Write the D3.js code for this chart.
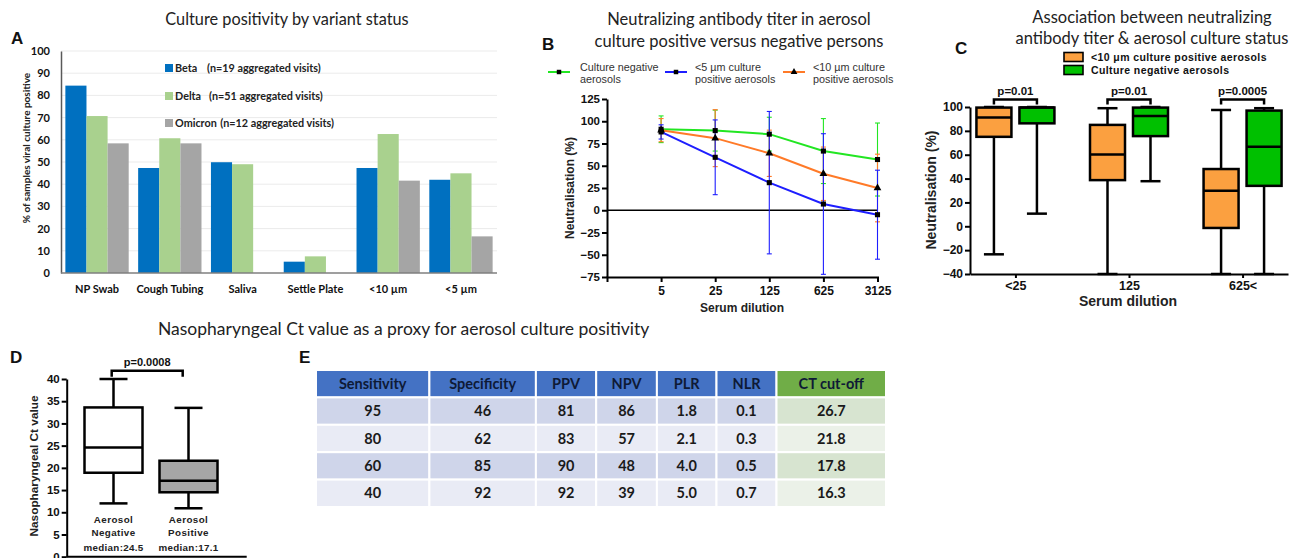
<!DOCTYPE html>
<html><head><meta charset="utf-8">
<script src="https://cdn.jsdelivr.net/npm/d3@7"></script>
<style>
body{margin:0;background:#fff}
svg{display:block}
</style></head><body>
<svg id="chart" width="1300" height="558"></svg>
<script>
// ---------------- DATA ----------------
// Panel A
const aCategories = ["NP Swab","Cough Tubing","Saliva","Settle Plate","<10 µm","<5 µm"];
const aSeries = ["Beta","Delta","Omicron"];
const aLegendNotes = ["(n=19 aggregated visits)","(n=51 aggregated visits)","(n=12 aggregated visits)"];
const betaValues    = [84.4, 47.3, 49.9, 5.1, 47.3, 42.0];
const deltaValues   = [70.7, 60.7, 49.0, 7.5, 62.6, 44.9];
const omicronValues = [58.4, 58.4, 0, 0, 41.6, 16.5];
const aYTicks = [0,10,20,30,40,50,60,70,80,90,100];

// Panel B
const bDilutions = [5,25,125,625,3125];
const bTickLabels = ["5","25","125","625","3125"];
const bSeriesNames = [["Culture negative","aerosols"],["<5 µm culture","positive aerosols"],["<10 µm culture","positive aerosols"]];
const negMean  = [91, 89.5, 85.5, 66.5, 57];
const negSD    = [15, 23, 19, 36.5, 41];
const lt5Mean  = [88, 59.5, 31, 7, -5];
const lt5SD    = [8, 42, 80, 79, 50];
const lt10Mean = [90, 81, 64, 41, 25];
const lt10SD   = [13, 32, 26, 30, 38];
const bYTicks = [-75,-50,-25,0,25,50,75,100,125];

// Panel C  [min, q1, median, q3, max]
const cCategories = ["<25","125","625<"];
const cGroups = ["<10 µm culture positive aerosols","Culture negative aerosols"];
const cPositiveBoxes = [[-23.5,75,91.3,99.5,100],[-40,38.7,60.2,85,99],[-40,-1.4,29.7,48,97.5]];
const cNegativeBoxes = [[10.6,86.3,99.6,99.6,100],[37.8,75.6,92.4,99.5,100],[-40,33.9,66.6,97,99]];
const cPValues = ["p=0.01","p=0.01","p=0.0005"];
const cYTicks = [-40,-20,0,20,40,60,80,100];

// Panel D
const dGroups = [["Aerosol","Negative"],["Aerosol","Positive"]];
const dBoxes = [[12.0,18.9,24.6,33.6,40],[10.9,14.5,17.1,21.6,33.5]];
const dMedians = ["median:24.5","median:17.1"];
const dPValue = "p=0.0008";
const dYTicks = [0,5,10,15,20,25,30,35,40];

// Panel E
const tableHeaders = ["Sensitivity","Specificity","PPV","NPV","PLR","NLR","CT cut-off"];
const tableRows = [
  ["95","46","81","86","1.8","0.1","26.7"],
  ["80","62","83","57","2.1","0.3","21.8"],
  ["60","85","90","48","4.0","0.5","17.8"],
  ["40","92","92","39","5.0","0.7","16.3"]
];

// ---------------- DRAW ----------------
const ARIAL = "'Liberation Sans', Arial, sans-serif";
const CAL = "Lato, 'Open Sans', sans-serif";
const svg = d3.select("#chart");
svg.append("rect").attr("width",1300).attr("height",558).attr("fill","#fff");

function styleAxis(g, font, size, sw){
  g.attr("font-family", font).attr("font-size", size).attr("font-weight","bold");
  g.selectAll("path.domain").attr("stroke","#000").attr("stroke-width", sw);
  g.selectAll(".tick line").attr("stroke","#000").attr("stroke-width", sw);
  g.selectAll(".tick text").attr("fill","#111");
}
function panelLetter(t,x,y){
  svg.append("text").attr("x",x).attr("y",y).text(t)
    .attr("font-family",ARIAL).attr("font-weight","bold").attr("font-size",17).attr("fill","#111");
}
function title(lines,cx,y0,dy,size){
  lines.forEach((l,i)=>svg.append("text").attr("x",cx).attr("y",y0+i*dy).attr("text-anchor","middle")
    .attr("font-family",CAL).attr("font-size",size).attr("fill","#222").text(l));
}

// ===== Panel A =====
const gA = svg.append("g");
const xA = d3.scaleBand().domain(aCategories).range([61,497]).paddingInner(0.13).paddingOuter(0.06);
const xAin = d3.scaleBand().domain(aSeries).range([0,xA.bandwidth()]);
const yA = d3.scaleLinear().domain([0,100]).range([273,51]);
const aColors = ["#0070C0","#A9D18E","#A5A5A5"];
const aValues = [betaValues, deltaValues, omicronValues];
gA.selectAll("line.grid").data(aYTicks.filter(d=>d>0)).join("line").attr("class","grid")
  .attr("x1",61).attr("x2",497).attr("y1",d=>yA(d)).attr("y2",d=>yA(d))
  .attr("stroke","#ebebeb").attr("stroke-width",1);
aSeries.forEach((s,si)=>{
  gA.append("g").selectAll("rect").data(aCategories.map((c,i)=>({c,v:aValues[si][i]}))).join("rect")
    .attr("x",d=>xA(d.c)+xAin(s)).attr("width",xAin.bandwidth())
    .attr("y",d=>yA(d.v)).attr("height",d=>yA(0)-yA(d.v)).attr("fill",aColors[si]);
});
const axAY = gA.append("g").attr("transform","translate(61,0)")
  .call(d3.axisLeft(yA).tickValues(aYTicks).tickSize(0).tickPadding(11));
styleAxis(axAY, CAL, 11, 1.5);
axAY.select("path.domain").attr("stroke","#595959");
const axAX = gA.append("g").attr("transform","translate(0,273)")
  .call(d3.axisBottom(xA).tickSize(0).tickPadding(12));
styleAxis(axAX, CAL, 11, 1.5);
axAX.select("path.domain").attr("stroke","#7f7f7f").attr("d","M61,0H497");
gA.append("text").attr("transform","translate(30,148) rotate(-90)").attr("text-anchor","middle")
  .attr("font-family",CAL).attr("font-weight","bold").attr("font-size",10).attr("fill","#222")
  .text("% of samples viral culture positive");
aSeries.forEach((s,i)=>{
  const yy = [68,96,123][i];
  gA.append("rect").attr("x",165).attr("y",yy-4).attr("width",8).attr("height",8).attr("fill",aColors[i]);
  const t = gA.append("text").attr("x",175).attr("y",yy+4).attr("font-family",CAL).attr("font-weight","bold")
    .attr("font-size",10.8).attr("fill","#222");
  t.append("tspan").text(s);
  if(i<2) t.append("tspan").attr("x",[207,209][i]).text(aLegendNotes[i]);
  else t.append("tspan").attr("dx",3.5).text(aLegendNotes[i]);
});
title(["Culture positivity by variant status"],287,25,0,16.3);
panelLetter("A",11,44);

// ===== Panel B =====
const gB = svg.append("g");
const xB = d3.scaleLog().base(5).domain([1,3125]).range([607,877.5]);
const yB = d3.scaleLinear().domain([-75,125]).range([277,99]);
const bColors = ["#22E622","#1E1EFF","#FF7A28"];
const bMeans = [negMean, lt5Mean, lt10Mean];
const bSDs = [negSD, lt5SD, lt10SD];
const bSymbols = [d3.symbolSquare, d3.symbolSquare, d3.symbolTriangle];
gB.append("line").attr("x1",607).attr("x2",877.5).attr("y1",yB(0)).attr("y2",yB(0)).attr("stroke","#000").attr("stroke-width",1.6);
[0,2,1].forEach(si=>{
  bDilutions.forEach((d,i)=>{
    const hi = bMeans[si][i]+bSDs[si][i], lo = Math.max(-75, bMeans[si][i]-bSDs[si][i]);
    const x = xB(d);
    gB.append("line").attr("x1",x).attr("x2",x).attr("y1",yB(hi)).attr("y2",yB(lo)).attr("stroke",bColors[si]).attr("stroke-width",1.1);
    [hi,lo].forEach(v=>gB.append("line").attr("x1",x-2.5).attr("x2",x+2.5).attr("y1",yB(v)).attr("y2",yB(v)).attr("stroke",bColors[si]).attr("stroke-width",1.1));
  });
});
const lineB = d3.line().x(d=>xB(d[0])).y(d=>yB(d[1]));
[0,2,1].forEach(si=>{
  gB.append("path").datum(bDilutions.map((d,i)=>[d,bMeans[si][i]])).attr("d",lineB)
    .attr("fill","none").attr("stroke",bColors[si]).attr("stroke-width",2);
});
[0,2,1].forEach(si=>{
  gB.append("g").selectAll("path").data(bDilutions.map((d,i)=>[d,bMeans[si][i]])).join("path")
    .attr("d",d3.symbol(bSymbols[si],26)).attr("transform",d=>`translate(${xB(d[0])},${yB(d[1])})`).attr("fill","#000");
});
const axBY = gB.append("g").attr("transform","translate(607,0)")
  .call(d3.axisLeft(yB).tickValues(bYTicks).tickSize(5).tickSizeOuter(0).tickPadding(2));
styleAxis(axBY, ARIAL, 11.5, 2);
const axBX = gB.append("g").attr("transform","translate(0,277)")
  .call(d3.axisBottom(xB).tickValues(bDilutions).tickFormat((d,i)=>bTickLabels[i]).tickSize(5).tickSizeOuter(5).tickPadding(4));
styleAxis(axBX, ARIAL, 11.5, 2);
axBX.selectAll(".tick text").attr("font-size",12);
gB.append("text").attr("transform","translate(574,188) rotate(-90)").attr("text-anchor","middle")
  .attr("font-family",ARIAL).attr("font-weight","bold").attr("font-size",12).attr("fill","#222").text("Neutralisation (%)");
gB.append("text").attr("x",742).attr("y",312).attr("text-anchor","middle")
  .attr("font-family",ARIAL).attr("font-weight","bold").attr("font-size",12).attr("fill","#222").text("Serum dilution");
[[548,580],[665,695],[783,813]].forEach(([lx,tx],si)=>{
  gB.append("line").attr("x1",lx).attr("x2",lx+22).attr("y1",72).attr("y2",72).attr("stroke",bColors[si]).attr("stroke-width",2);
  gB.append("path").attr("d",d3.symbol(bSymbols[si],20)).attr("transform",`translate(${lx+11},72)`).attr("fill","#000");
  bSeriesNames[si].forEach((t,j)=>gB.append("text").attr("x",tx).attr("y",70.5+j*12.5)
    .attr("font-family",ARIAL).attr("font-size",10.8).attr("fill","#333").text(t));
});
title(["Neutralizing antibody titer in aerosol","culture positive versus negative persons"],739,25,21.5,16.5);
panelLetter("B",542,50);

// ===== generic box =====
function drawBox(g, cx, w, capW, stats, y, fill, sw){
  const [mn,q1,md,q3,mx] = stats;
  g.append("line").attr("x1",cx).attr("x2",cx).attr("y1",y(mx)).attr("y2",y(q3)).attr("stroke","#000").attr("stroke-width",sw);
  g.append("line").attr("x1",cx).attr("x2",cx).attr("y1",y(q1)).attr("y2",y(mn)).attr("stroke","#000").attr("stroke-width",sw);
  [mn,mx].forEach(v=>g.append("line").attr("x1",cx-capW/2).attr("x2",cx+capW/2).attr("y1",y(v)).attr("y2",y(v)).attr("stroke","#000").attr("stroke-width",sw));
  g.append("rect").attr("x",cx-w/2).attr("width",w).attr("y",y(q3)).attr("height",y(q1)-y(q3))
    .attr("fill",fill).attr("stroke","#000").attr("stroke-width",sw);
  g.append("line").attr("x1",cx-w/2).attr("x2",cx+w/2).attr("y1",y(md)).attr("y2",y(md)).attr("stroke","#000").attr("stroke-width",sw);
}
function bracket(g,x1,x2,y,drop,label,size,sw){
  g.append("path").attr("d",`M${x1},${y+drop}V${y}H${x2}V${y+drop}`).attr("fill","none").attr("stroke","#000").attr("stroke-width",sw);
  g.append("text").attr("x",(x1+x2)/2).attr("y",y-5).attr("text-anchor","middle").attr("font-family",ARIAL)
    .attr("font-weight","bold").attr("font-size",size).attr("fill","#111").text(label);
}

// ===== Panel C =====
const gC = svg.append("g");
const xC = d3.scalePoint().domain(cCategories).range([970,1288]).padding(0.4);
const xCin = d3.scalePoint().domain(cGroups).range([-21.5,21.5]);
const yC = d3.scaleLinear().domain([-40,100]).range([274,107]);
const cColors = ["#FBA040","#00C000"];
cCategories.forEach((c,i)=>{
  drawBox(gC, xC(c)+xCin(cGroups[0]), 35, 20, cPositiveBoxes[i], yC, cColors[0], 2.5);
  drawBox(gC, xC(c)+xCin(cGroups[1]), 35, 20, cNegativeBoxes[i], yC, cColors[1], 2.5);
  bracket(gC, xC(c)+xCin(cGroups[0]), xC(c)+xCin(cGroups[1]), 99.5, 5, cPValues[i], 11.5, 2.5);
});
const axCY = gC.append("g").attr("transform","translate(970,0)")
  .call(d3.axisLeft(yC).tickValues(cYTicks).tickSize(5).tickSizeOuter(0).tickPadding(2));
styleAxis(axCY, ARIAL, 12, 2);
const axCX = gC.append("g").attr("transform","translate(0,274)")
  .call(d3.axisBottom(xC).tickSize(4).tickSizeOuter(0).tickPadding(3));
styleAxis(axCX, ARIAL, 12.5, 2);
gC.append("text").attr("transform","translate(936,190) rotate(-90)").attr("text-anchor","middle")
  .attr("font-family",ARIAL).attr("font-weight","bold").attr("font-size",14).attr("fill","#222").text("Neutralisation (%)");
gC.append("text").attr("x",1128).attr("y",306).attr("text-anchor","middle")
  .attr("font-family",ARIAL).attr("font-weight","bold").attr("font-size",14).attr("fill","#222").text("Serum dilution");
cGroups.forEach((gname,i)=>{
  const yy = [57,70][i];
  gC.append("rect").attr("x",1064).attr("y",yy-4.5).attr("width",19).attr("height",9).attr("fill",cColors[i]).attr("stroke","#000").attr("stroke-width",1.6);
  gC.append("text").attr("x",1091).attr("y",yy+4).attr("font-family",ARIAL).attr("font-weight","bold")
    .attr("font-size",10.5).attr("letter-spacing",0.4).attr("fill","#111").text(gname.replace("µ","μ"));
});
title(["Association between neutralizing","antibody titer & aerosol culture status"],1152,23,21,16.5);
panelLetter("C",955,54);

// ===== Panel D =====
const gD = svg.append("g");
const xD = d3.scalePoint().domain(dGroups.map(d=>d.join(" "))).range([113.5,188.5]);
const yD = d3.scaleLinear().domain([0,40]).range([556.7,379]);
const dFills = ["#ffffff","#A6A6A6"];
dGroups.forEach((gr,i)=>{
  const cx = xD(gr.join(" "));
  drawBox(gD, cx, 58, 28, dBoxes[i], yD, dFills[i], 2.5);
  gr.forEach((t,j)=>gD.append("text").attr("x",cx).attr("y",523+j*12.5).attr("text-anchor","middle")
    .attr("font-family",ARIAL).attr("font-weight","bold").attr("font-size",9.8).attr("letter-spacing",0.4).attr("fill","#222").text(t));
  gD.append("text").attr("x",cx).attr("y",551).attr("text-anchor","middle")
    .attr("font-family",ARIAL).attr("font-weight","bold").attr("font-size",9.8).attr("letter-spacing",0.3).attr("fill","#222").text(dMedians[i]);
});
bracket(gD, 111.7, 182.7, 370.7, 6, dPValue, 11, 2.5);
const axDY = gD.append("g").attr("transform","translate(66.7,0)")
  .call(d3.axisLeft(yD).tickValues(dYTicks).tickSize(5).tickSizeOuter(0).tickPadding(2));
styleAxis(axDY, ARIAL, 11.5, 2);
gD.append("line").attr("x1",66.7).attr("x2",246.7).attr("y1",556.7).attr("y2",556.7).attr("stroke","#000").attr("stroke-width",2);
gD.append("text").attr("transform","translate(38,466) rotate(-90)").attr("text-anchor","middle")
  .attr("font-family",ARIAL).attr("font-weight","bold").attr("font-size",11.8).attr("fill","#222").text("Nasopharyngeal Ct value");
panelLetter("D",10,363);
panelLetter("E",299,363);
svg.append("text").attr("x",158).attr("y",335).attr("font-family",CAL).attr("font-size",17.5).attr("fill","#222")
  .text("Nasopharyngeal Ct value as a proxy for aerosol culture positivity");

// ===== Panel E table =====
const gE = svg.append("g");
const colEdges = [316,429.4,535.9,596.2,656.9,716.5,776.5,886];
const rowY = d3.scaleBand().domain(d3.range(tableRows.length+1)).range([370,507]);
const allRows = [tableHeaders, ...tableRows];
allRows.forEach((row,ri)=>{
  row.forEach((cell,ci)=>{
    const isCT = ci === row.length-1;
    let fill;
    if(ri===0) fill = isCT ? "#70AD47" : "#4472C4";
    else if(ri%2===1) fill = isCT ? "#D7E4D0" : "#CFD5EA";
    else fill = isCT ? "#EBF1E8" : "#E9EBF5";
    gE.append("rect").attr("x",colEdges[ci]).attr("y",rowY(ri)).attr("width",colEdges[ci+1]-colEdges[ci]).attr("height",rowY.bandwidth())
      .attr("fill",fill).attr("stroke","#fff").attr("stroke-width",2);
    gE.append("text").attr("x",(colEdges[ci]+colEdges[ci+1])/2).attr("y",rowY(ri)+rowY.bandwidth()/2+5)
      .attr("text-anchor","middle").attr("font-family",CAL).attr("font-weight","bold").attr("font-size",14.5)
      .attr("fill", ri===0 ? "#0e1a36" : "#1a1a1a").text(cell);
  });
});
</script>
</body></html>
